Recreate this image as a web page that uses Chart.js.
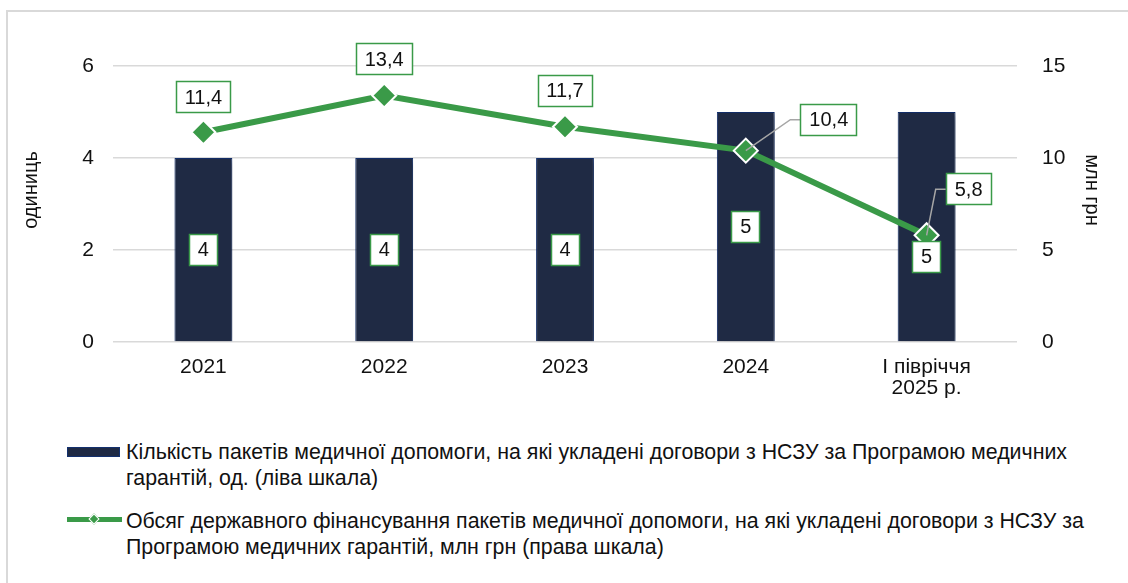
<!DOCTYPE html>
<html>
<head>
<meta charset="utf-8">
<script src="https://cdn.jsdelivr.net/npm/chart.js@4/dist/chart.umd.min.js"></script>
<style>
  html, body { margin: 0; padding: 0; background: #fff; }
  #wrap { position: relative; width: 1128px; height: 583px; overflow: hidden; font-family: 'Liberation Sans', Arial, sans-serif; color: #111; }
  #frame { position: absolute; left: 6px; top: 10px; width: 1140px; height: 600px; border: 2px solid #d9d9d9; box-sizing: border-box; }
  #c { position: absolute; left: 0; top: 0; }
  .leg { position: absolute; left: 126px; font-size: 21.35px; line-height: 26px; white-space: nowrap; }
  .mk-bar { position: absolute; left: 67px; top: 447px; width: 53px; height: 10px; background: #1f2a44; border: 1px solid #13306e; box-sizing: border-box; }
  .mk-line { position: absolute; left: 67px; top: 517px; width: 55px; height: 5px; background: #3a9a48; }
  .mk-line i { position: absolute; left: 23px; top: -2px; width: 6px; height: 6px; background: #3a9a48; border: 1.5px solid #fff; transform: rotate(45deg); }
</style>
</head>
<body>
<div id="wrap">
  <div id="frame"></div>
  <canvas id="c" width="1128" height="410"></canvas>
  <div class="mk-bar"></div>
  <div class="leg" style="top:439px">Кількість пакетів медичної допомоги, на які укладені договори з НСЗУ за Програмою медичних<br>гарантій, од. (ліва шкала)</div>
  <div class="mk-line"><i></i></div>
  <div class="leg" style="top:508px">Обсяг державного фінансування пакетів медичної допомоги, на які укладені договори з НСЗУ за<br>Програмою медичних гарантій, млн грн (права шкала)</div>
</div>
<script>
const categories = ['2021', '2022', '2023', '2024', ['І півріччя', '2025 р.']];
const packages = [4, 4, 4, 5, 5];
const funding = [11.4, 13.4, 11.7, 10.4, 5.8];
const fundingLabels = ['11,4', '13,4', '11,7', '10,4', '5,8'];
const leftTitle = 'одиниць';
const rightTitle = 'млн грн';

const navy = '#1f2a44';
const green = '#3a9a48';
const font = "'Liberation Sans', Arial, sans-serif";

// label placement (px offsets from the mark)
const barLabelShift = [0, 0, 0, 0, 30];
const lineLabelOffset = [[0, -35], [0, -36], [0, -36], [83, -31], [42, -46]];
const lineLabelLeader = [false, false, false, true, true];

function box(ctx, text, cx, cy, padX) {
  ctx.font = '20px ' + font;
  const w = Math.round(ctx.measureText(text).width + padX * 2);
  const h = 32;
  const x = Math.round(cx - w / 2), y = Math.round(cy - h / 2);
  ctx.fillStyle = '#fff';
  ctx.fillRect(x, y, w, h);
  ctx.strokeStyle = green;
  ctx.lineWidth = 1.5;
  ctx.strokeRect(x + 0.5, y + 0.5, w - 1, h - 1);
  ctx.fillStyle = '#111';
  ctx.textAlign = 'center';
  ctx.textBaseline = 'middle';
  ctx.fillText(text, cx, cy + 1);
}

const shadowPlugin = {
  id: 'barShadow',
  beforeDatasetDraw(chart, args) {
    if (args.index !== 0) return;
    const ctx = chart.ctx;
    ctx.save();
    ctx.shadowColor = 'rgba(0,0,0,0.35)';
    ctx.shadowBlur = 7;
    ctx.shadowOffsetX = 3;
    ctx.shadowOffsetY = 2;
  },
  afterDatasetDraw(chart, args) {
    if (args.index === 0) chart.ctx.restore();
  }
};

const labelPlugin = {
  id: 'boxLabels',
  afterDatasetsDraw(chart) {
    const ctx = chart.ctx;
    ctx.save();
    chart.getDatasetMeta(0).data.forEach((bar, i) => {
      const cy = (bar.y + bar.base) / 2 + barLabelShift[i];
      box(ctx, String(packages[i]), bar.x, cy, 9);
    });
    chart.getDatasetMeta(1).data.forEach((pt, i) => {
      const cx = pt.x + lineLabelOffset[i][0];
      const cy = pt.y + lineLabelOffset[i][1];
      if (lineLabelLeader[i]) {
        ctx.font = '20px ' + font;
        const w = ctx.measureText(fundingLabels[i]).width + 18;
        const left = cx - w / 2;
        ctx.strokeStyle = '#a6a6a6';
        ctx.lineWidth = 1.5;
        ctx.beginPath();
        ctx.moveTo(pt.x, pt.y);
        ctx.lineTo(left - 10, cy);
        ctx.lineTo(left, cy);
        ctx.stroke();
      }
      box(ctx, fundingLabels[i], cx, cy, 9);
    });
    ctx.restore();
  }
};

const titlePlugin = {
  id: 'axisTitles',
  afterDraw(chart) {
    const ctx = chart.ctx;
    const cy = 190;
    [[leftTitle, 31, -1], [rightTitle, 1092, 1]].forEach(([text, x, dir]) => {
      ctx.save();
      ctx.font = '20px ' + font;
      ctx.fillStyle = '#111';
      ctx.textAlign = 'center';
      ctx.textBaseline = 'middle';
      ctx.translate(x, cy);
      ctx.rotate(dir * Math.PI / 2);
      ctx.fillText(text, 0, 0);
      ctx.restore();
    });
  }
};

new Chart(document.getElementById('c').getContext('2d'), {
  data: {
    labels: categories,
    datasets: [
      {
        type: 'bar',
        label: 'Кількість пакетів',
        data: packages,
        yAxisID: 'y',
        backgroundColor: navy,
        borderColor: '#13306e',
        borderWidth: 1,
        barPercentage: 0.64,
        categoryPercentage: 0.5,
        order: 2
      },
      {
        type: 'line',
        label: 'Обсяг фінансування',
        data: funding,
        yAxisID: 'y1',
        borderColor: green,
        borderWidth: 6,
        pointStyle: 'rectRot',
        pointRadius: 12,
        pointBackgroundColor: green,
        pointBorderColor: '#fff',
        pointBorderWidth: 2,
        tension: 0,
        order: 1
      }
    ]
  },
  options: {
    responsive: false,
    animation: false,
    devicePixelRatio: 1,
    layout: { padding: { top: 66, left: 0, right: 0, bottom: 0 } },
    plugins: { legend: { display: false }, tooltip: { enabled: false } },
    scales: {
      x: {
        grid: { display: false },
        border: { display: false },
        ticks: { color: '#111', font: { family: font, size: 21, lineHeight: 1.0 }, padding: 7, maxRotation: 0 },
        afterFit(s) { s.height = 68; }
      },
      y: {
        position: 'left',
        min: 0, max: 6,
        ticks: { stepSize: 2, color: '#111', font: { family: font, size: 21 }, padding: 19 },
        grid: { color: '#d9d9d9', lineWidth: 1.5, drawTicks: false },
        border: { display: false },
        afterFit(s) { s.width = 113; }
      },
      y1: {
        position: 'right',
        min: 0, max: 15,
        ticks: { stepSize: 5, color: '#111', font: { family: font, size: 21 }, padding: 17 },
        grid: { display: false },
        border: { display: false },
        afterFit(s) { s.width = 111; }
      }
    }
  },
  plugins: [shadowPlugin, labelPlugin, titlePlugin]
});
</script>
</body>
</html>
